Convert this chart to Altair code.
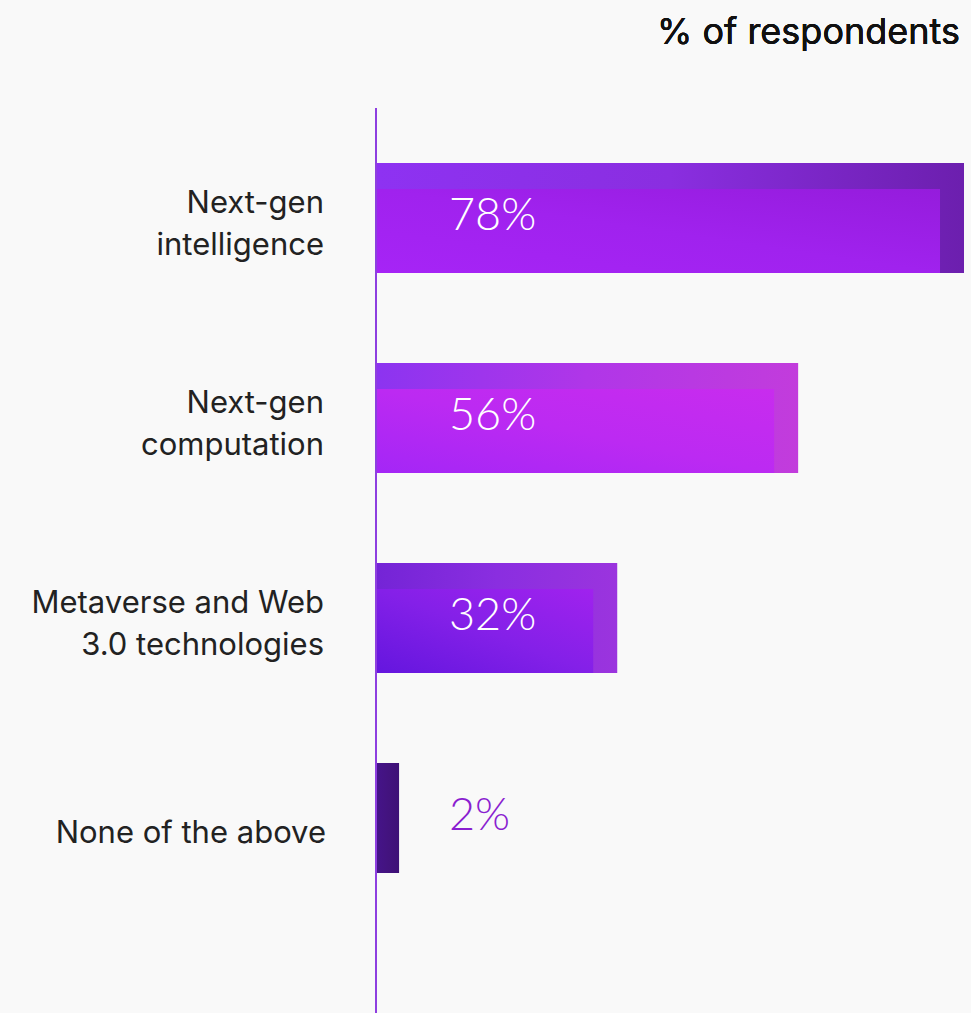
import altair as alt
import pandas as pd

categories = ["Next-gen\nintelligence", "Next-gen\ncomputation",
              "Metaverse and Web\n3.0 technologies", "None of the above"]
values = [78, 56, 32, 2]
value_labels = ["78%", "56%", "32%", "2%"]

outer_colors = [["#8e32f2", "#8a2ee0", "#6c1fae"],
                ["#8c34f0", "#b036e8", "#c23cdc"],
                ["#7424d6", "#8a2ee0", "#9b34de"],
                ["#45148a", "#43137f", "#3e1176"]]
inner_colors = [["#a624f6", "#a022ee", "#951cdc"],
                ["#a426f6", "#bc2af2", "#c82cee"],
                ["#6416de", "#8420e8", "#a022ee"],
                None]

df = pd.DataFrame({"category": categories, "value": values,
                   "label": value_labels, "order": list(range(len(categories))),
                   "lines": [c.count("\n") + 1 for c in categories]})

W, H = 588, 905
FONT = "Inter"

y = alt.Y("category:N", sort=categories, axis=None,
          scale=alt.Scale(range=[0, 820], paddingInner=0.45, paddingOuter=0.275))
xs = alt.Scale(domain=[0, 78], nice=False)

base = alt.Chart(df).transform_calculate(zero="0")
layers = []
for i, cat in enumerate(categories):
    oc = outer_colors[i]
    grad = alt.Gradient(gradient="linear", x1=0, y1=0, x2=1, y2=0,
                        stops=[alt.GradientStop(color=oc[0], offset=0),
                               alt.GradientStop(color=oc[1], offset=0.5),
                               alt.GradientStop(color=oc[2], offset=1)])
    extra = 8 if values[i] < 5 else 0
    layers.append(base.transform_filter(alt.datum.order == i)
                  .mark_bar(color=grad, xOffset=extra)
                  .encode(x=alt.X("value:Q", axis=None, scale=xs),
                          x2=alt.X2("zero:Q"), y=y))
    ic = inner_colors[i]
    if ic is not None:
        igrad = alt.Gradient(gradient="linear", x1=0, y1=1, x2=1, y2=0,
                             stops=[alt.GradientStop(color=ic[0], offset=0),
                                    alt.GradientStop(color=ic[1], offset=0.5),
                                    alt.GradientStop(color=ic[2], offset=1)])
        layers.append(base.transform_filter(alt.datum.order == i)
                      .mark_bar(color=igrad, height=84, yOffset=13, xOffset=-24)
                      .encode(x=alt.X("value:Q", axis=None, scale=xs),
                              x2=alt.X2("zero:Q"), y=y))

axis_line = base.mark_rule(color="#8e3fe0", strokeWidth=2).encode(
    x=alt.value(0), y=alt.value(0), y2=alt.value(H))

cat_multi = base.transform_filter(alt.datum.lines > 1).mark_text(
    align="right", baseline="middle", font=FONT, fontSize=31,
    color="#222222", lineBreak="\n", lineHeight=42, dy=-14).encode(
    y=y, x=alt.value(-52), text="category:N")

cat_single = base.transform_filter(alt.datum.lines == 1).mark_text(
    align="right", baseline="middle", font=FONT, fontSize=31,
    color="#222222", dy=16).encode(
    y=y, x=alt.value(-50), text="category:N")

val_text = base.mark_text(align="left", baseline="middle", font="Lato", fontSize=45,
                          fontWeight=300, dy=-2).encode(
    y=y, x=alt.value(73), text="label:N",
    color=alt.condition(alt.datum.value > 5, alt.value("white"), alt.value("#8a1fd0")))

title_text = base.mark_text(align="right", baseline="middle", font=FONT, fontSize=36,
                            color="#111111").encode(
    x=alt.value(W - 4), y=alt.value(-75), text=alt.value("% of respondents"))

chart = alt.layer(*layers, axis_line, cat_multi, cat_single, val_text, title_text).properties(
    width=W, height=H,
    autosize=alt.AutoSizeParams(type="none"),
    padding={"left": 376, "top": 108, "right": 7, "bottom": 0},
    background="#f9f9f9",
).configure_view(stroke=None)

chart.save("out.html", embed_options={"renderer": "svg", "actions": False})
